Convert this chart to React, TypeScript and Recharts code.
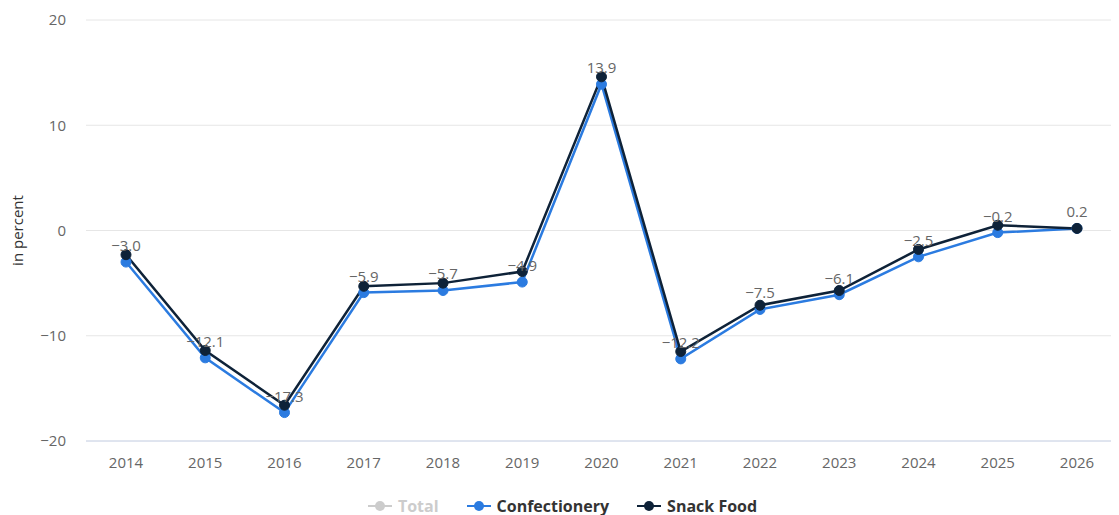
import { CartesianGrid, LabelList, Legend, Line, LineChart, XAxis, YAxis } from "recharts";

const years = ["2014", "2015", "2016", "2017", "2018", "2019", "2020", "2021", "2022", "2023", "2024", "2025", "2026"];
const confectionery = [-3.0, -12.1, -17.3, -5.9, -5.7, -4.9, 13.9, -12.2, -7.5, -6.1, -2.5, -0.2, 0.2];
const snackFood = [-2.3, -11.4, -16.6, -5.3, -5.0, -3.9, 14.6, -11.5, -7.1, -5.7, -1.8, 0.5, 0.2];
const yTicks = [-20, -10, 0, 10, 20];

const BLUE = "#2b7be0";
const NAVY = "#0e2238";
const FONT = "'Open Sans', sans-serif";

const legendItems = [
  { name: "Total", color: "#cccccc", text: "#cccccc" },
  { name: "Confectionery", color: BLUE, text: "#333333" },
  { name: "Snack Food", color: NAVY, text: "#333333" },
];

const data = years.map((year, i) => ({
  year,
  confectionery: confectionery[i],
  snackFood: snackFood[i],
}));

const fmt = (v: number) => (v < 0 ? `\u2212${Math.abs(v)}` : `${v}`);
const fmt1 = (v: number) => (v < 0 ? `\u2212${Math.abs(v).toFixed(1)}` : v.toFixed(1));

function ChartLegend() {
  return (
    <div style={{ display: "flex", justifyContent: "center", gap: 28, fontFamily: FONT, fontSize: 16, fontWeight: 700 }}>
      {legendItems.map((item) => (
        <div key={item.name} style={{ display: "flex", alignItems: "center", gap: 6 }}>
          <svg width={24} height={12}>
            <line x1={0} y1={6} x2={24} y2={6} stroke={item.color} strokeWidth={2} />
            <circle cx={12} cy={6} r={5} fill={item.color} />
          </svg>
          <span style={{ color: item.text }}>{item.name}</span>
        </div>
      ))}
    </div>
  );
}

export default function App() {
  return (
    <LineChart width={1111} height={507} data={data} margin={{ top: 12, right: 2, bottom: 0, left: 0 }}>
      <CartesianGrid vertical={false} stroke="#e6e6e6" />
      <XAxis
        dataKey="year"
        height={50}
        padding={{ left: 40, right: 40 }}
        tickLine={false}
        axisLine={{ stroke: "#ccd6eb" }}
        tickMargin={10}
        tick={{ fill: "#666666", fontSize: 15, fontFamily: FONT }}
      />
      <YAxis
        width={78}
        domain={[-20, 20]}
        ticks={yTicks}
        axisLine={false}
        tickLine={false}
        tickMargin={14}
        tickFormatter={fmt}
        tick={{ fill: "#666666", fontSize: 15, fontFamily: FONT }}
        label={{
          value: "in percent",
          angle: -90,
          position: "insideLeft",
          offset: 10,
          style: { textAnchor: "middle", fill: "#333333", fontSize: 15, fontFamily: FONT },
        }}
      />
      <Legend
        verticalAlign="bottom"
        height={24}
        wrapperStyle={{ bottom: -4 }}
        content={() => <ChartLegend />}
      />
      <Line
        dataKey="confectionery"
        name="Confectionery"
        stroke={BLUE}
        strokeWidth={2.5}
        dot={{ r: 5, fill: BLUE, stroke: BLUE, strokeWidth: 1 }}
        isAnimationActive={false}
      >
        <LabelList
          dataKey="confectionery"
          position="top"
          offset={11}
          formatter={(v: number) => fmt1(v)}
          style={{ fill: "#666666", fontSize: 15, fontFamily: FONT }}
        />
      </Line>
      <Line
        dataKey="snackFood"
        name="Snack Food"
        stroke={NAVY}
        strokeWidth={2.5}
        dot={{ r: 5, fill: NAVY, stroke: NAVY, strokeWidth: 1 }}
        isAnimationActive={false}
      />
    </LineChart>
  );
}
